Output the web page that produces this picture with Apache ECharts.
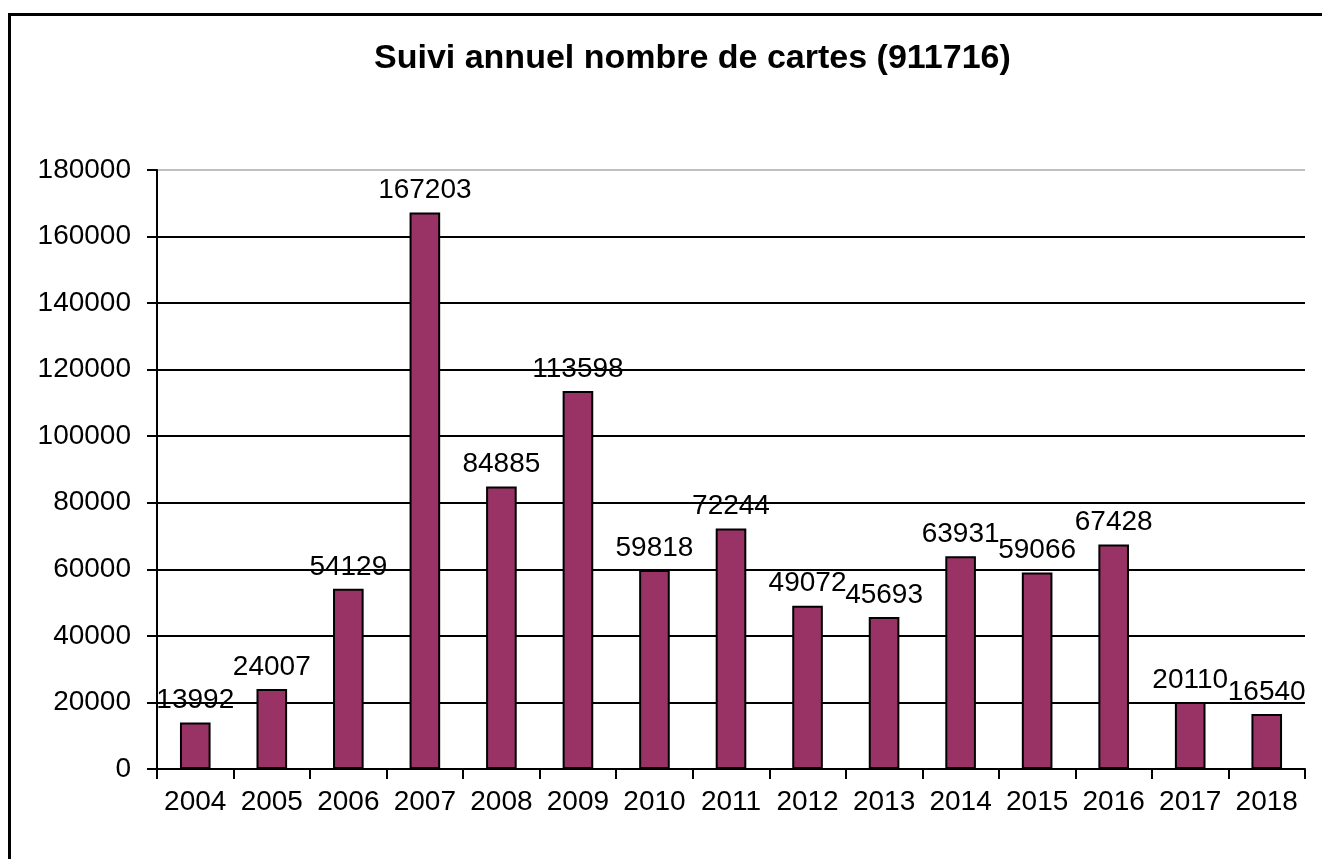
<!DOCTYPE html>
<html>
<head>
<meta charset="utf-8">
<script src="https://cdn.jsdelivr.net/npm/echarts@6/dist/echarts.min.js"></script>
<style>
  html, body { margin: 0; padding: 0; background: #fff; overflow: hidden; }
  .frame {
    position: absolute; left: 8px; top: 13px;
    width: 1400px; height: 900px;
    border-left: 3px solid #000; border-top: 3px solid #000;
  }
  #chart { position: absolute; left: 0; top: 0; width: 1322px; height: 859px; }
</style>
</head>
<body>
<div class="frame"></div>
<div id="chart"></div>
<script>
// annees et nombre de cartes
var years = ['2004', '2005', '2006', '2007', '2008', '2009', '2010', '2011',
  '2012', '2013', '2014', '2015', '2016', '2017', '2018'];
var cartes = [13992, 24007, 54129, 167203, 84885, 113598, 59818, 72244,
  49072, 45693, 63931, 59066, 67428, 20110, 16540];

var chart = echarts.init(document.getElementById('chart'));

// la ligne du haut (180000) est grise, les autres noires
var gridColors = ['#000', '#000', '#000', '#000', '#000', '#000', '#000', '#000', '#000', '#c0c0c0'];

var font = 'Liberation Sans, Arial, sans-serif';

var option = {
  animation: false,
  title: {
    text: 'Suivi annuel nombre de cartes (911716)',
    left: 369,
    top: 37,
    textStyle: {
      fontFamily: font,
      fontSize: 34,
      fontWeight: 'bold',
      color: '#000'
    }
  },
  grid: {
    left: 157,
    right: 17,
    top: 170,
    bottom: 90
  },
  xAxis: {
    type: 'category',
    data: years,
    axisLine: { lineStyle: { color: '#000', width: 2 } },
    axisTick: { show: true, length: 10, interval: 0, lineStyle: { color: '#000', width: 2 } },
    axisLabel: { interval: 0, fontFamily: font, fontSize: 28, color: '#000', margin: 19 }
  },
  yAxis: {
    type: 'value',
    min: 0,
    max: 180000,
    interval: 20000,
    axisLine: { show: true, lineStyle: { color: '#000', width: 2 } },
    axisTick: { show: true, length: 10, lineStyle: { color: '#000', width: 2 } },
    axisLabel: {
      fontFamily: font, fontSize: 28, color: '#000', margin: 26,
      formatter: function (v) { return String(v); }
    },
    splitLine: { show: true, lineStyle: { color: gridColors, width: 2 } }
  },
  series: [
    {
      name: 'cartes',
      type: 'bar',
      data: cartes,
      barWidth: '40%',
      itemStyle: {
        color: '#993366',
        borderColor: '#000',
        borderWidth: 2
      },
      label: {
        show: true,
        position: 'top',
        distance: 8,
        fontFamily: font,
        fontSize: 28,
        color: '#000'
      }
    }
  ]
};

chart.setOption(option);
</script>
</body>
</html>
